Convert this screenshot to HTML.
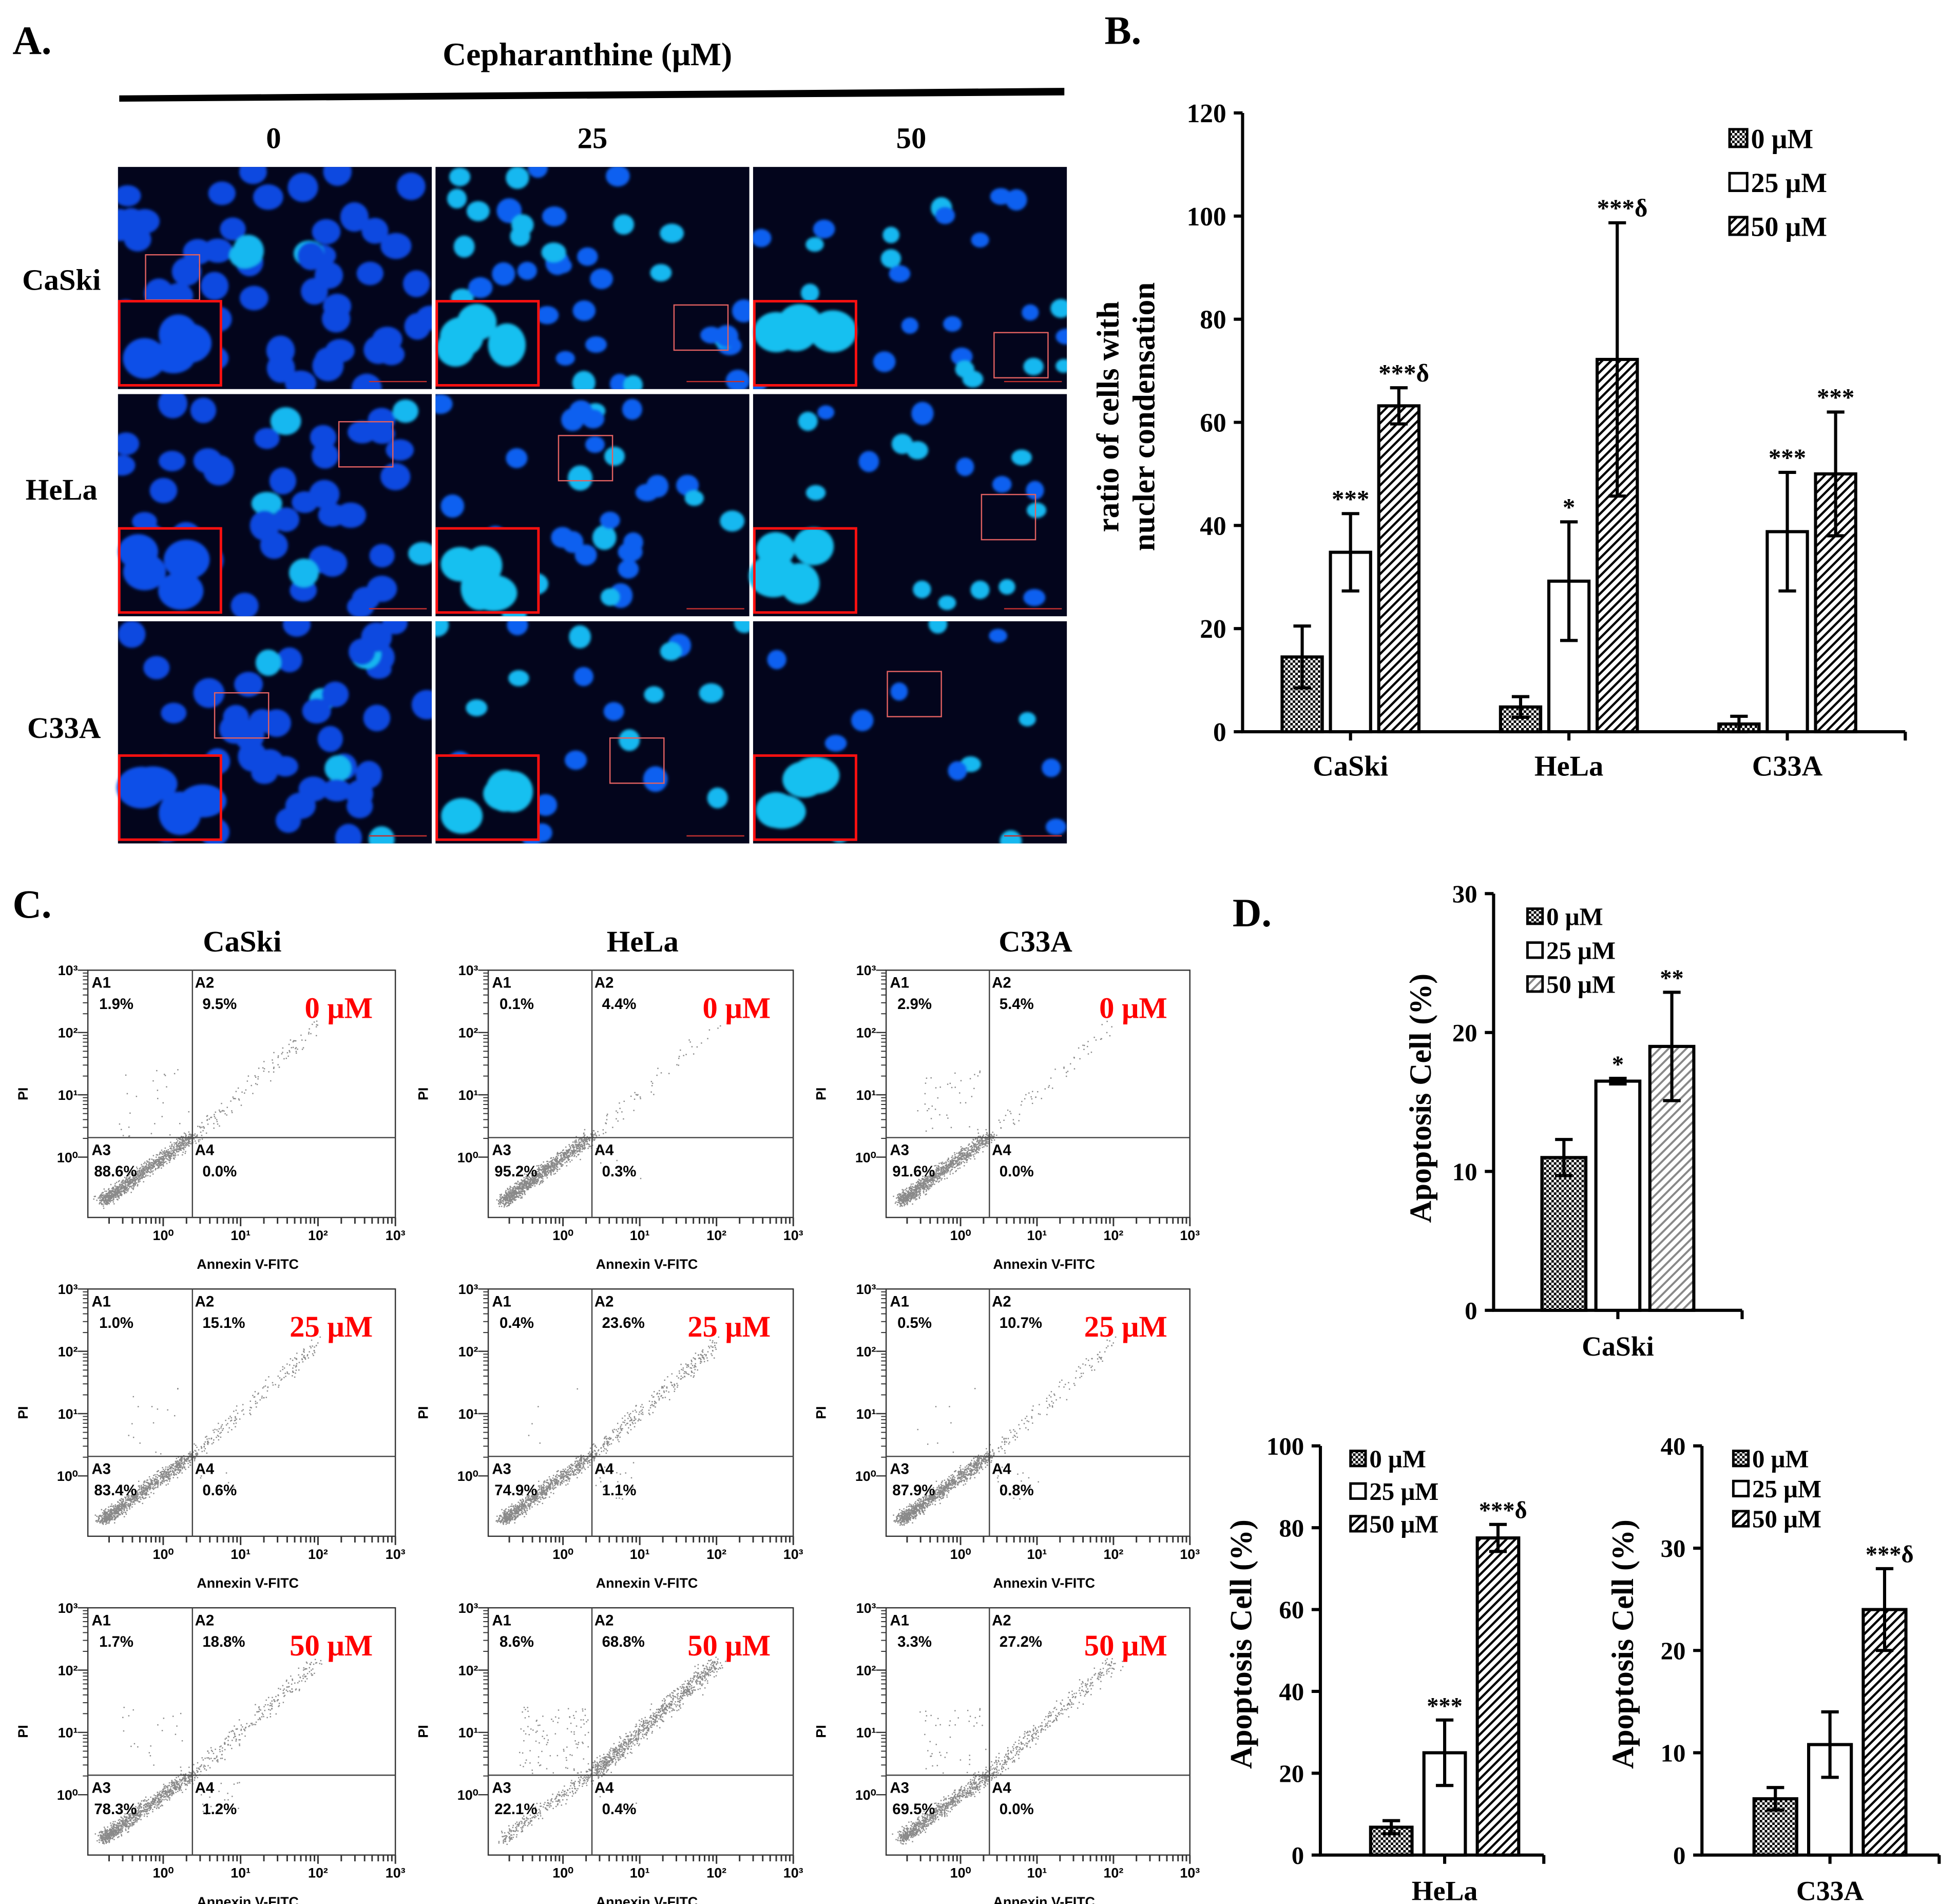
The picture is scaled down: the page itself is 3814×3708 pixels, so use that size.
<!DOCTYPE html>
<html><head><meta charset="utf-8">
<style>
html,body{margin:0;padding:0;background:#fff;}
svg{display:block;}
text{font-family:"Liberation Serif",serif;font-weight:bold;fill:#000;}
.sans{font-family:"Liberation Sans",sans-serif;}
</style></head>
<body>
<svg id="fig" xmlns="http://www.w3.org/2000/svg" width="3814" height="3708" viewBox="0 0 1560 1517" preserveAspectRatio="none">
<defs>
<pattern id="checker" width="4" height="4" patternUnits="userSpaceOnUse">
<rect width="4" height="4" fill="#fff"/><rect width="2" height="2" fill="#000"/><rect x="2" y="2" width="2" height="2" fill="#000"/>
</pattern>
<pattern id="hatch" width="5" height="5" patternUnits="userSpaceOnUse" patternTransform="rotate(45)">
<rect width="5" height="5" fill="#fff"/><rect width="1.8" height="5" fill="#000"/>
</pattern>
<pattern id="hatchL" width="5" height="5" patternUnits="userSpaceOnUse" patternTransform="rotate(45)">
<rect width="5" height="5" fill="#fff"/><rect width="1.6" height="5" fill="#888"/>
</pattern>
<filter id="blur" x="-20%" y="-20%" width="140%" height="140%"><feGaussianBlur stdDeviation="1.2"/></filter>
</defs>
<text x="10" y="43" font-size="32">A.</text>
<text x="468" y="52" font-size="26" text-anchor="middle">Cepharanthine (μM)</text>
<polygon points="95,76 848,70 848,76 95,81" fill="#000"/>
<text x="218" y="118" font-size="24" text-anchor="middle">0</text>
<text x="472" y="118" font-size="24" text-anchor="middle">25</text>
<text x="726" y="118" font-size="24" text-anchor="middle">50</text>
<text x="49" y="231" font-size="24" text-anchor="middle">CaSki</text>
<text x="49" y="398" font-size="24" text-anchor="middle">HeLa</text>
<text x="51" y="588" font-size="24" text-anchor="middle">C33A</text>
<text x="880" y="35" font-size="32">B.</text>
<text x="10" y="731" font-size="32">C.</text>
<text x="982" y="738" font-size="32">D.</text>
<text x="193" y="758" font-size="24" text-anchor="middle">CaSki</text>
<text x="512" y="758" font-size="24" text-anchor="middle">HeLa</text>
<text x="825" y="758" font-size="24" text-anchor="middle">C33A</text>
<g id="gA"></g><g id="gB"></g><g id="gC"></g><g id="gD"></g>
</svg>
<script>
// ---------- Panel B data ----------
const bCategories = ['CaSki','HeLa','C33A'];
const bVal0 = [14.5, 4.8, 1.5];
const bErr0 = [6, 2, 1.5];
const bVal25 = [34.8, 29.2, 38.8];
const bErr25 = [7.5, 11.5, 11.5];
const bVal50 = [63.2, 72.2, 50];
const bErr50 = [3.5, 26.5, 12];
const bStar0 = ['', '', ''];
const bStar25 = ['***', '*', '***'];
const bStar50 = ['***δ', '***δ', '***'];
const bTicks = [0, 20, 40, 60, 80, 100, 120];
// ---------- Panel D data ----------
const d1Categories = ['CaSki'];
const d1Val = [11, 16.5, 19];
const d1Err = [1.3, 0.2, 3.9];
const d1Star = ['', '*', '**'];
const d1Ticks = [0, 10, 20, 30];
const d2Categories = ['HeLa'];
const d2Val = [6.8, 25, 77.5];
const d2Err = [1.6, 8, 3.3];
const d2Star = ['', '***', '***δ'];
const d2Ticks = [0, 20, 40, 60, 80, 100];
const d3Categories = ['C33A'];
const d3Val = [5.5, 10.8, 24];
const d3Err = [1.1, 3.2, 4];
const d3Star = ['', '', '***δ'];
const d3Ticks = [0, 10, 20, 30, 40];
const doseLabels = ['0 μM', '25 μM', '50 μM'];
// ---------- Panel C data ----------
const flowLines = ['CaSki','HeLa','C33A'];
const flowDoses = ['0 μM','25 μM','50 μM'];
// [A1, A2, A3, A4] percentages, rows = dose, cols = cell line
const flowPct = [
  [[1.9,9.5,88.6,0.0],[0.1,4.4,95.2,0.3],[2.9,5.4,91.6,0.0]],
  [[1.0,15.1,83.4,0.6],[0.4,23.6,74.9,1.1],[0.5,10.7,87.9,0.8]],
  [[1.7,18.8,78.3,1.2],[8.6,68.8,22.1,0.4],[3.3,27.2,69.5,0.0]]
];

const NS = 'http://www.w3.org/2000/svg';
function mk(parent, tag, attrs, txt){
  const e = document.createElementNS(NS, tag);
  for (const k in attrs) e.setAttribute(k, attrs[k]);
  if (txt !== undefined) e.textContent = txt;
  parent.appendChild(e);
  return e;
}
let seed = 12345;
function rnd(){ seed = (seed * 1103515245 + 12345) % 2147483648; return seed / 2147483648; }
function gauss(){ return (rnd()+rnd()+rnd()-1.5)/0.5*0.5; }

// ---------- Panel A: microscopy tiles ----------
const gA = document.getElementById('gA');
const colX = [94, 347, 600], rowY = [133, 314, 495], tW = 250, tH = 177;
const nucCount = [[55, 40, 24],[45, 32, 18],[48, 24, 14]];
const nucSize = [10, 7.5, 6.5];
const cyanFrac = [0.06, 0.45, 0.55];
const smallBox = [[[116,203],[537,243],[792,265]],[[270,336],[445,347],[782,394]],[[171,552],[486,588],[707,535]]];
for (let r = 0; r < 3; r++) for (let c = 0; c < 3; c++) {
  const x0 = colX[c], y0 = rowY[r];
  const tile = mk(gA, 'g', {});
  
  
  mk(tile, 'rect', {x:x0, y:y0, width:tW, height:tH, fill:'#03051c'});
  const cl = mk(tile, 'clipPath', {id:'clip'+r+c});
  mk(cl, 'rect', {x:x0, y:y0, width:tW, height:tH});
  const ng = mk(tile, 'g', {'clip-path':'url(#clip'+r+c+')', filter:'url(#blur)'});
  const n = nucCount[r][c];
  for (let i = 0; i < n; i++) {
    const rx = nucSize[c] + rnd()*2.5;
    const ry = rx * (0.75 + rnd()*0.3);
    const col = rnd() < cyanFrac[c] ? '#14b8f0' : (c === 0 ? '#1048e0' : '#1060f0');
    mk(ng, 'ellipse', {cx: x0 + rnd()*tW, cy: y0 + rnd()*tH, rx: rx, ry: ry, fill: col});
  }
  const sb = smallBox[r][c];
  mk(tile, 'rect', {x:sb[0], y:sb[1], width:43, height:36, fill:'none', stroke:'#e06060', 'stroke-width':1});
  const bx = x0+1, by = y0+tH-70, bw = 81, bh = 67;
  mk(tile, 'rect', {x:bx, y:by, width:bw, height:bh, fill:'#03051c'});
  const ig = mk(tile, 'g', {filter:'url(#blur)'});
  for (let i = 0; i < 4; i++) {
    mk(ig, 'ellipse', {cx: bx + 14 + rnd()*(bw-28), cy: by + 14 + rnd()*(bh-28), rx: 15 + rnd()*5, ry: 13 + rnd()*5, fill: c===0 ? '#1050e8' : '#14c0f0'});
  }
  mk(tile, 'rect', {x:bx, y:by, width:bw, height:bh, fill:'none', stroke:'#ff1010', 'stroke-width':2});
  mk(tile, 'line', {x1:x0+tW-50, x2:x0+tW-4, y1:y0+tH-6, y2:y0+tH-6, stroke:'#c03030', 'stroke-width':1});
}

// ---------- generic bar chart ----------
function barChart(g, cfg, cats, v0, e0, v25, e25, v50, e50, s0, s25, s50, ticks){
  const {ax, y0, yTop, ymax, xEnd, centers, bw, step, fs, hatch50} = cfg;
  const ys = v => y0 - v / ymax * (y0 - yTop);
  const yAxis = mk(g, 'line', {x1:ax, x2:ax, y1:y0+1, y2:yTop, stroke:'#000', 'stroke-width':2.5});
  
  
  const xAxis = mk(g, 'line', {x1:ax-1, x2:xEnd, y1:y0, y2:y0, stroke:'#000', 'stroke-width':2.5});
  
  
  mk(g, 'line', {x1:xEnd, x2:xEnd, y1:y0, y2:y0+7, stroke:'#000', 'stroke-width':2.5});
  ticks.forEach(t => {
    mk(g, 'line', {x1:ax-7, x2:ax, y1:ys(t), y2:ys(t), stroke:'#000', 'stroke-width':2.5});
    const tl = mk(g, 'text', {x:ax-13, y:ys(t)+fs*0.35, 'font-size':fs, 'text-anchor':'end'}, t);
    
    
  });
  const vals = [v0, v25, v50], errs = [e0, e25, e50], stars = [s0, s25, s50];
  const fills = ['url(#checker)', '#fff', hatch50];
  cats.forEach((cat, i) => {
    const cx = centers[i];
    mk(g, 'line', {x1:cx, x2:cx, y1:y0, y2:y0+7, stroke:'#000', 'stroke-width':2.5});
    const cl = mk(g, 'text', {x:cx, y:y0+cfg.catDy, 'font-size':fs+2, 'text-anchor':'middle'}, cat);
    
    
    for (let k = 0; k < 3; k++) {
      const bx = cx + (k-1)*step - bw/2;
      const v = vals[k][i], e = errs[k][i];
      const bar = mk(g, 'rect', {x:bx, y:ys(v), width:bw, height:y0-ys(v), fill:fills[k], stroke:'#000', 'stroke-width':2.5});
      
      
      const mx = bx + bw/2;
      const eb = mk(g, 'path', {d:'M'+mx+' '+ys(v-e)+'V'+ys(v+e)+'M'+(mx-7)+' '+ys(v+e)+'H'+(mx+7)+'M'+(mx-7)+' '+ys(v-e)+'H'+(mx+7), stroke:'#000', 'stroke-width':2.5, fill:'none'});
      
      
      const s = stars[k][i];
      if (s) {
        const st = mk(g, 'text', {x:mx + (s.indexOf('δ')>=0 ? 4 : 0), y:ys(v+e)-5, 'font-size':fs-1, 'text-anchor':'middle', 'font-weight':'normal'}, s);
        
        
      }
    }
  });
  const lf = ['url(#checker)', '#fff', hatch50];
  doseLabels.forEach((d, k) => {
    const ly = cfg.legY + k*cfg.legStep;
    const lb = mk(g, 'rect', {x:cfg.legX, y:ly-cfg.legBox, width:cfg.legBox, height:cfg.legBox, fill:lf[k], stroke:'#000', 'stroke-width':2});
    
    
    const lt = mk(g, 'text', {x:cfg.legX+cfg.legBox+3, y:ly+1, 'font-size':cfg.legFs}, d);
    
    
  });
  const tt = mk(g, 'text', {transform:'translate('+cfg.titleX+','+cfg.titleY+') rotate(-90)', 'font-size':cfg.titleFs, 'text-anchor':'middle'});
  
  
  cfg.title.forEach((line, j) => { mk(tt, 'tspan', {x:0, dy: j===0 ? 0 : cfg.titleFs*1.15}, line); });
}

barChart(document.getElementById('gB'), {name:'chart-b', ax:990, y0:583, yTop:90, ymax:120, xEnd:1518, centers:[1076,1250,1424], bw:32, step:38.5, fs:21, hatch50:'url(#hatch)', catDy:35, legX:1378, legY:117, legStep:35, legBox:14, legFs:22, titleX:891, titleY:332, titleFs:25, title:['ratio of cells with','nucler condensation']}, bCategories, bVal0, bErr0, bVal25, bErr25, bVal50, bErr50, bStar0, bStar25, bStar50, bTicks);

const gD = document.getElementById('gD');
barChart(gD, {name:'chart-d-caski', ax:1190, y0:1044, yTop:712, ymax:30, xEnd:1388, centers:[1289], bw:35, step:43, fs:20, hatch50:'url(#hatchL)', catDy:36, legX:1217, legY:736, legStep:27, legBox:12, legFs:20, titleX:1140, titleY:875, titleFs:24.5, title:['Apoptosis Cell (%)']}, d1Categories, [d1Val[0]], [d1Err[0]], [d1Val[1]], [d1Err[1]], [d1Val[2]], [d1Err[2]], [d1Star[0]], [d1Star[1]], [d1Star[2]], d1Ticks);
barChart(gD, {name:'chart-d-hela', ax:1052, y0:1478, yTop:1152, ymax:100, xEnd:1230, centers:[1151], bw:33, step:42.5, fs:20, hatch50:'url(#hatch)', catDy:36, legX:1076, legY:1168, legStep:26, legBox:12, legFs:20, titleX:997, titleY:1310, titleFs:24.5, title:['Apoptosis Cell (%)']}, d2Categories, [d2Val[0]], [d2Err[0]], [d2Val[1]], [d2Err[1]], [d2Val[2]], [d2Err[2]], [d2Star[0]], [d2Star[1]], [d2Star[2]], d2Ticks);
barChart(gD, {name:'chart-d-c33a', ax:1356, y0:1478, yTop:1152, ymax:40, xEnd:1545, centers:[1458], bw:34, step:43.5, fs:20, hatch50:'url(#hatch)', catDy:36, legX:1381, legY:1168, legStep:24, legBox:12, legFs:20, titleX:1301, titleY:1310, titleFs:24.5, title:['Apoptosis Cell (%)']}, d3Categories, [d3Val[0]], [d3Err[0]], [d3Val[1]], [d3Err[1]], [d3Val[2]], [d3Err[2]], [d3Star[0]], [d3Star[1]], [d3Star[2]], d3Ticks);

// ---------- Panel C: flow cytometry ----------
const gC = document.getElementById('gC');
const fLeft = [70, 389, 706], fWidth = [245, 243, 242], fTop = [773, 1027, 1281], fH = 197;
const sup = ['⁰','¹','²','³'];
for (let r = 0; r < 3; r++) for (let c = 0; c < 3; c++) {
  const L = fLeft[c], T = fTop[r], W = fWidth[c], H = fH;
  const qx = L + 0.34*W, qy = T + 0.677*H;
  const pct = flowPct[r][c];
  const g = mk(gC, 'g', {});
  
  
  const sg = mk(g, 'g', {fill:'#8a8a8a'});
  const total = 1300;
  for (let i = 0; i < total; i++) {
    const u = rnd()*100;
    let px, py;
    if (u < pct[2]) {
      const t = Math.pow(rnd(), 1.4);
      px = 0.05 + t*0.29 + gauss()*0.025; py = 0.93 - t*0.26 + gauss()*0.025;
    } else if (u < pct[2]+pct[1]) {
      const t = Math.pow(rnd(), 1.2);
      px = 0.35 + t*0.4 + gauss()*0.03; py = 0.66 - t*0.44 + gauss()*0.03;
    } else if (u < pct[2]+pct[1]+pct[0]) {
      px = 0.1 + rnd()*0.23; py = 0.4 + rnd()*0.27;
    } else {
      px = 0.35 + rnd()*0.15; py = 0.7 + rnd()*0.15;
    }
    px = Math.min(0.99, Math.max(0.005, px)); py = Math.min(0.99, Math.max(0.01, py));
    mk(sg, 'rect', {x: L + px*W, y: T + py*H, width:1, height:1});
  }
  mk(g, 'rect', {x:L, y:T, width:W, height:H, fill:'none', stroke:'#333', 'stroke-width':1});
  mk(g, 'line', {x1:qx, x2:qx, y1:T, y2:T+H, stroke:'#444', 'stroke-width':1});
  mk(g, 'line', {x1:L, x2:L+W, y1:qy, y2:qy, stroke:'#444', 'stroke-width':1});
  for (let d = 0; d < 4; d++) {
    const yy = T + (3-d)*0.252*H;
    mk(g, 'line', {x1:L-8, x2:L, y1:yy, y2:yy, stroke:'#333', 'stroke-width':1});
    mk(g, 'text', {x:L-8, y:yy+4, 'font-size':11, 'text-anchor':'end', class:'sans', 'font-weight':'normal'}, '10' + sup[d]);
    for (let m = 2; m < 10; m++) {
      const ym = yy - Math.log10(m)*0.252*H;
      if (ym > T) mk(g, 'line', {x1:L-4, x2:L, y1:ym, y2:ym, stroke:'#333', 'stroke-width':0.8});
    }
  }
  for (let d = 0; d < 4; d++) {
    const xx = L + (0.245 + d*0.2517)*W;
    mk(g, 'line', {x1:xx, x2:xx, y1:T+H, y2:T+H+7, stroke:'#333', 'stroke-width':1.2});
    mk(g, 'text', {x:xx, y:T+H+18, 'font-size':11, 'text-anchor':'middle', class:'sans', 'font-weight':'normal'}, '10' + sup[d]);
    for (let m = 2; m < 10; m++) {
      const xm = xx - (1-Math.log10(m))*0.2517*W;
      if (xm > L) mk(g, 'line', {x1:xm, x2:xm, y1:T+H, y2:T+H+5, stroke:'#333', 'stroke-width':1.2});
    }
  }
  const xl = mk(g, 'text', {x:L + 0.52*W, y:T+H+41, 'font-size':11, 'text-anchor':'middle', class:'sans'}, 'Annexin V-FITC');
  
  
  const yl = mk(g, 'text', {transform:'translate('+(L-48)+','+(T+0.5*H)+') rotate(-90)', 'font-size':11, 'text-anchor':'middle', class:'sans'}, 'PI');
  
  
  const qlab = [['A1', L+3, T+14],['A2', qx+2, T+14],['A3', L+3, qy+14],['A4', qx+2, qy+14]];
  qlab.forEach((q, k) => {
    mk(g, 'text', {x:q[1], y:q[2], 'font-size':12, class:'sans', 'font-weight':'normal'}, q[0]);
    const pt = mk(g, 'text', {x:q[1]+ (k===2 ? 2 : 6), y:q[2]+17, 'font-size':12, class:'sans', 'font-weight':'normal'}, pct[k].toFixed(1) + '%');
    
    
  });
  const dl = mk(g, 'text', {x:L+W-18, y:T+38, 'font-size':24, 'text-anchor':'end', fill:'#ff0000', style:'fill:#ff0000'}, flowDoses[r]);
  
  
}
</script>
</body></html>
